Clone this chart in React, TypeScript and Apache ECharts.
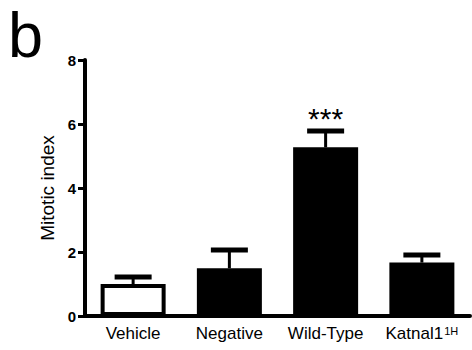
import React, { useEffect, useRef } from "react";
import * as echarts from "echarts";

const categories = ["Vehicle", "Negative", "Wild-Type", "Katnal1"];
const means = [1.0, 1.49, 5.27, 1.67];
const errorHigh = [1.22, 2.06, 5.78, 1.91];
const significance = ["", "", "***", ""];
const barColors = ["#ffffff", "#000000", "#000000", "#000000"];
const panelLetter = "b";
const yTitle = "Mitotic index";

const FONT = "Liberation Sans, Arial, sans-serif";

export default function App() {
  const ref = useRef<HTMLDivElement>(null);
  useEffect(() => {
    const chart = echarts.init(ref.current!, null, { renderer: "svg" });
    chart.setOption({
      animation: false,
      backgroundColor: "#ffffff",
      grid: { left: 85, right: 2, top: 60, bottom: 34 },
      graphic: [
        {
          type: "text",
          left: 8,
          top: 3,
          style: { text: panelLetter, fontSize: 63, fontFamily: FONT, fill: "#000" },
        },
      ],
      xAxis: {
        type: "category",
        data: categories,
        axisLine: { lineStyle: { color: "#000", width: 4 } },
        axisTick: { alignWithLabel: true, length: 6, lineStyle: { width: 3, color: "#000" } },
        axisLabel: {
          color: "#000",
          fontSize: 17,
          fontFamily: FONT,
          margin: 9,
          interval: 0,
          formatter: (v: string) => (v === "Katnal1" ? "{m|Katnal1}{s|1H}" : v),
          rich: {
            m: { fontSize: 17, fontFamily: FONT, color: "#000" },
            s: { fontSize: 11, fontFamily: FONT, color: "#000", verticalAlign: "top", padding: [0, 0, 6, 1] },
          },
        },
      },
      yAxis: {
        type: "value",
        min: 0,
        max: 8,
        interval: 2,
        name: yTitle,
        nameLocation: "middle",
        nameGap: 27,
        nameTextStyle: { fontSize: 19, fontFamily: FONT, color: "#000" },
        axisLine: { show: true, lineStyle: { color: "#000", width: 4 } },
        axisTick: { show: true, length: 7, lineStyle: { width: 3, color: "#000" } },
        axisLabel: { color: "#000", fontWeight: "bold", fontSize: 15, fontFamily: FONT, margin: 9 },
        splitLine: { show: false },
      },
      series: [
        {
          type: "bar",
          barWidth: 65,
          data: means.map((v, i) => ({
            value: v,
            itemStyle: { color: barColors[i], borderColor: "#000", borderWidth: 4 },
          })),
          z: 2,
        },
        {
          type: "custom",
          z: 3,
          data: categories.map((_, i) => [i, means[i], errorHigh[i]]),
          renderItem: (params: any, api: any) => {
            const i = api.value(0);
            const lo = api.coord([i, api.value(1)]);
            const hi = api.coord([i, api.value(2)]);
            const children: any[] = [
              { type: "line", shape: { x1: lo[0], y1: lo[1], x2: hi[0], y2: hi[1] }, style: { stroke: "#000", lineWidth: 3 } },
              { type: "line", shape: { x1: hi[0] - 18.5, y1: hi[1], x2: hi[0] + 18.5, y2: hi[1] }, style: { stroke: "#000", lineWidth: 5 } },
            ];
            const sig = significance[params.dataIndex];
            if (sig) {
              children.push({
                type: "text",
                x: hi[0],
                y: hi[1] - 13,
                style: { text: sig, fontSize: 30, fontFamily: FONT, fill: "#000", align: "center", verticalAlign: "middle" },
              });
            }
            return { type: "group", children };
          },
        },
      ],
    });
    return () => chart.dispose();
  }, []);
  return <div ref={ref} style={{ width: 472, height: 350, position: "absolute", left: 0, top: 0 }} />;
}
